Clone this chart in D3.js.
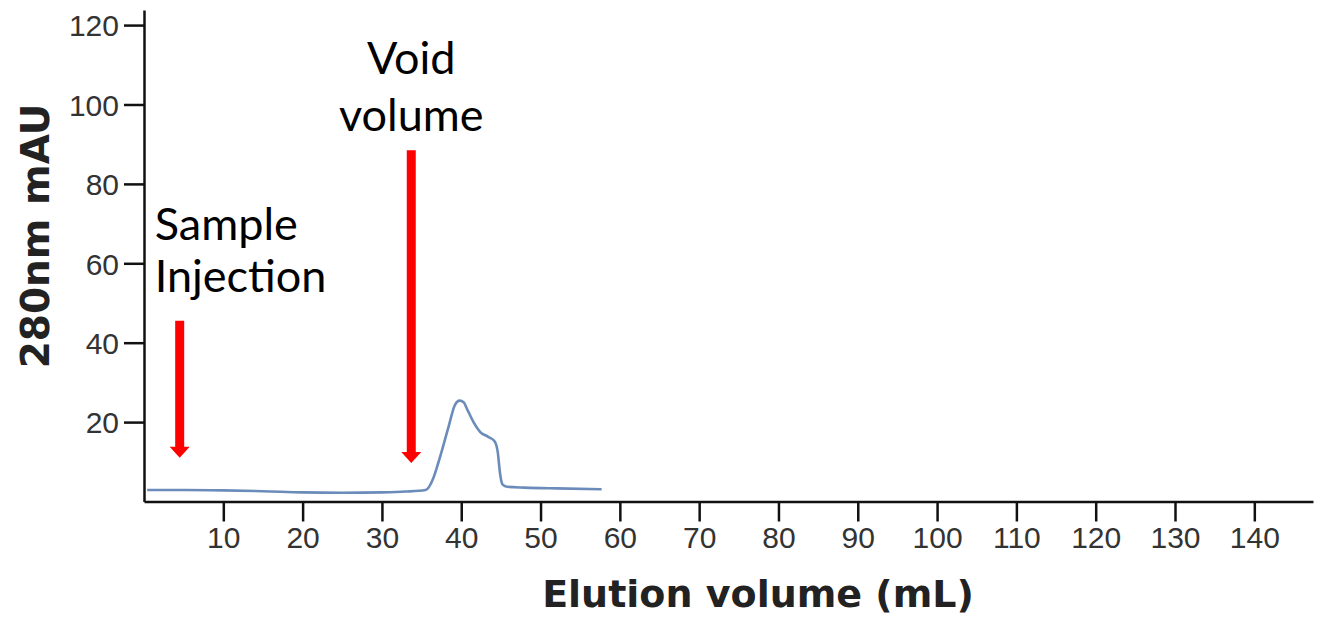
<!DOCTYPE html>
<meta charset="utf-8">
<style>
body { margin: 0; background: #fff; }
.axis path, .axis line { stroke: #111; stroke-width: 2.5px; }
.axis text { fill: #333; font-family: "Liberation Sans", Arial, sans-serif; font-size: 30px; }
.note { font-family: Lato, "Open Sans", sans-serif; font-size: 45px; fill: #000; }
.axisTitle { font-family: "DejaVu Sans", Verdana, sans-serif; font-weight: bold; fill: #222; }
</style>
<script src="https://d3js.org/d3.v7.min.js"></script>
<body>
<script>
// chromatogram trace (elution volume mL, absorbance mAU)
const volume = [0.4, 5, 10, 15, 20, 25, 30, 33, 35.5, 36.5, 37.1, 38.4, 39.2, 39.8, 40.3, 40.8, 41.6, 42.4, 43.4, 44.2, 44.6, 44.9, 45.2, 45.8, 48, 52, 57.7];
const absorbance = [2.9, 2.9, 2.8, 2.6, 2.3, 2.2, 2.3, 2.5, 2.9, 6, 9.7, 18.8, 24.3, 25.4, 25, 23, 19.8, 17.5, 16.3, 15.2, 12.5, 7, 4.3, 3.7, 3.5, 3.3, 3.1];

const xTicks = [10, 20, 30, 40, 50, 60, 70, 80, 90, 100, 110, 120, 130, 140];
const yTicks = [20, 40, 60, 80, 100, 120];

// annotation arrows
const arrowNames = ['Sample Injection', 'Void volume'];
const arrowX = [4.5, 33.7];
const arrowTop = [45.5, 88.5];
const arrowTip = [11, 9.7];

const W = 1325, H = 619;
const svg = d3.select('body').append('svg')
  .attr('width', W)
  .attr('height', H);

const x = d3.scaleLinear().domain([0, 147.4]).range([144, 1313]);
const y = d3.scaleLinear().domain([0, 123.8]).range([501.5, 10]);

svg.append('g')
  .attr('class', 'axis')
  .attr('transform', `translate(0, ${y(0)})`)
  .call(d3.axisBottom(x).tickValues(xTicks).tickSize(20).tickSizeOuter(0).tickPadding(5));

svg.append('g')
  .attr('class', 'axis')
  .attr('transform', `translate(${x(0)}, 0)`)
  .call(d3.axisLeft(y).tickValues(yTicks).tickSize(20).tickSizeOuter(0).tickPadding(5))
  .selectAll('text').attr('dy', '0.36em');

const data = volume.map((v, i) => ({v: v, a: absorbance[i]}));

svg.append('path')
  .datum(data)
  .attr('fill', 'none')
  .attr('stroke', '#6b8cba')
  .attr('stroke-width', 2.6)
  .attr('d', d3.line().x(d => x(d.v)).y(d => y(d.a)).curve(d3.curveMonotoneX));

// red arrows
arrowX.forEach((ax, i) => {
  const cx = x(ax), top = y(arrowTop[i]), tip = y(arrowTip[i]);
  const sw = 4.5, hw = 10, hl = 11;
  svg.append('path')
    .attr('fill', '#ff0000')
    .attr('d', `M${cx - sw},${top} L${cx + sw},${top} L${cx + sw},${tip - hl} L${cx + hw},${tip - hl} L${cx},${tip} L${cx - hw},${tip - hl} L${cx - sw},${tip - hl} Z`);
});

// Sample Injection label
const sx = x(arrowX[0]) - 25;
svg.append('text').attr('class', 'note').attr('x', sx).attr('y', 240).text('Sample');
svg.append('text').attr('class', 'note').attr('x', sx).attr('y', 292).text('Injection');

// Void volume label
const vx = x(arrowX[1]);
svg.append('text').attr('class', 'note').attr('x', vx).attr('y', 74).attr('text-anchor', 'middle').text('Void');
svg.append('text').attr('class', 'note').attr('x', vx).attr('y', 131).attr('text-anchor', 'middle').text('volume');

svg.append('text')
  .attr('class', 'axisTitle')
  .attr('x', 758).attr('y', 607)
  .attr('text-anchor', 'middle')
  .style('font-size', '38px')
  .text('Elution volume (mL)');

svg.append('text')
  .attr('class', 'axisTitle')
  .attr('transform', 'translate(49, 236) rotate(-90)')
  .attr('text-anchor', 'middle')
  .style('font-size', '39px')
  .text('280nm mAU');
</script>
</body>
